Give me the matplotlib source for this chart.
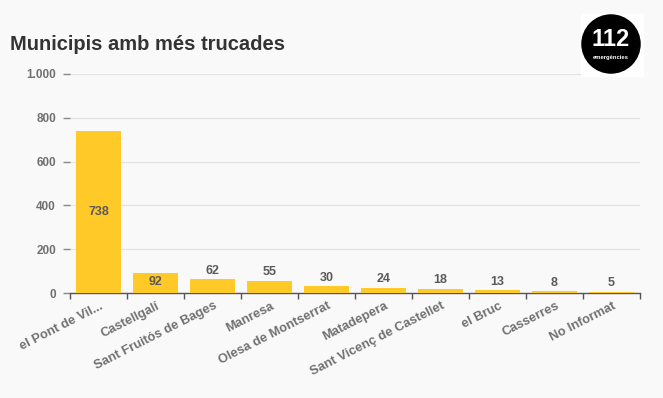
import numpy as np
import matplotlib.pyplot as plt
from matplotlib.patches import Circle, Rectangle
from matplotlib.transforms import ScaledTranslation

# dades
municipis = ['el Pont de Vil...', 'Castellgalí', 'Sant Fruitós de Bages', 'Manresa',
             'Olesa de Montserrat', 'Matadepera', 'Sant Vicenç de Castellet',
             'el Bruc', 'Casserres', 'No Informat']
trucades = [738, 92, 62, 55, 30, 24, 18, 13, 8, 5]
yticks = [0, 200, 400, 600, 800, 1000]
ytick_labels = ['0', '200', '400', '600', '800', '1.000']

plt.rcParams['font.family'] = ['Liberation Sans', 'DejaVu Sans']
bg = '#f9f9f9'
groc = '#ffc928'
gris = '#707070'

fig = plt.figure(figsize=(6.63, 3.98), dpi=100, facecolor=bg)
ax = fig.add_axes([70 / 663, 105 / 398, 570 / 663, 219 / 398], facecolor=bg)

x = np.arange(len(municipis))
ax.bar(x, trucades, width=0.79, color=groc, zorder=3)

# etiquetes de valor
for xi, v in zip(x, trucades):
    if v > 300:
        ax.text(xi, v / 2, str(v), ha='center', va='center', fontsize=9,
                fontweight='bold', color='#5a5a5a', zorder=4)
    elif v > 80:
        ax.text(xi, v - 42, str(v), ha='center', va='center', fontsize=9,
                fontweight='bold', color='#5a5a5a', zorder=4)
    else:
        ax.text(xi, v + 12, str(v), ha='center', va='bottom', fontsize=9,
                fontweight='bold', color='#5a5a5a', zorder=4)

ax.set_xlim(-0.5, len(municipis) - 0.5)
ax.set_ylim(0, 1000)
ax.set_yticks(yticks)
ax.set_yticklabels(ytick_labels, fontsize=8.5, fontweight='bold', color=gris)
ax.yaxis.grid(True, color='#e3e3e3', linewidth=0.8, zorder=0)
ax.tick_params(axis='y', length=5, width=1, color='#888888', pad=5)

ax.set_xticks(x)
ax.set_xticklabels(municipis, rotation=27, ha='right', rotation_mode='anchor',
                   fontsize=9.3, fontweight='bold', color=gris)
ax.tick_params(axis='x', length=0, pad=5)
desplaca = ScaledTranslation(1 / 100, 0, fig.dpi_scale_trans)
for lab in ax.get_xticklabels():
    lab.set_transform(lab.get_transform() + desplaca)
ax.set_xticks(np.arange(-0.5, len(municipis)), minor=True)
ax.tick_params(axis='x', which='minor', length=4, width=1, color='#555555')

for s in ['top', 'right', 'left']:
    ax.spines[s].set_visible(False)
ax.spines['bottom'].set_color('#555555')
ax.spines['bottom'].set_linewidth(1)

fig.text(10 / 663, 1 - 45 / 398, 'Municipis amb més trucades', fontsize=14.5,
         fontweight='bold', color='#333333', va='center', ha='left')

# logo 112
lax = fig.add_axes([578 / 663, 1 - 77 / 398, 66 / 663, 66 / 398])
lax.set_xlim(0, 1)
lax.set_ylim(0, 1)
lax.set_aspect('equal')
lax.axis('off')
lax.add_patch(Rectangle((0.04, 0.02), 0.94, 0.94, color='white'))
lax.add_patch(Circle((0.5, 0.5), 0.44, color='black'))
lax.text(0.5, 0.57, '112', color='white', fontsize=17, fontweight='bold',
         ha='center', va='center')
lax.text(0.5, 0.30, 'emergències', color='white', fontsize=4.2, fontweight='bold',
         ha='center', va='center')

fig.savefig('out.png', dpi=100, facecolor=bg)
